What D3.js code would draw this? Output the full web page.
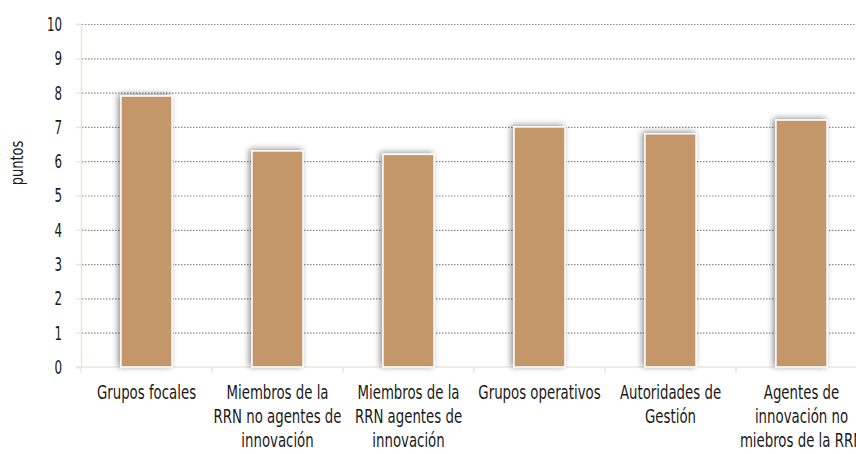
<!DOCTYPE html>
<html lang="es">
<head>
<meta charset="utf-8">
<title>puntos</title>
<script src="https://cdn.jsdelivr.net/npm/d3@7"></script>
<style>
  body { margin: 0; background: #fff; }
  svg { display: block; }
  svg text { font-family: "DejaVu Sans Condensed", "DejaVu Sans", sans-serif; font-stretch: condensed; }
</style>
</head>
<body>
<script>
// data
var categories = [
  ["Grupos focales"],
  ["Miembros de la", "RRN no agentes de", "innovación"],
  ["Miembros de la", "RRN agentes de", "innovación"],
  ["Grupos operativos"],
  ["Autoridades de", "Gestión"],
  ["Agentes de", "innovación no", "miebros de la RRN"]
];
var values = [7.9, 6.3, 6.2, 7.0, 6.8, 7.2];
var yTicks = [0, 1, 2, 3, 4, 5, 6, 7, 8, 9, 10];

var W = 856, H = 454;
var svg = d3.select("body").append("svg")
  .attr("width", W)
  .attr("height", H);

var defs = svg.append("defs");
var f = defs.append("filter").attr("id", "shadow")
  .attr("x", "-40%").attr("y", "-10%").attr("width", "180%").attr("height", "120%");
f.append("feDropShadow")
  .attr("dx", -2).attr("dy", -1)
  .attr("stdDeviation", 3)
  .attr("flood-color", "#000")
  .attr("flood-opacity", 0.45);

var x = d3.scaleBand()
  .domain(d3.range(categories.length))
  .range([81, 867])
  .paddingInner(0.61)
  .paddingOuter(0.305);

var y = d3.scaleLinear().domain([0, 10]).range([367, 24]);

// gridlines
svg.append("g").selectAll("line")
  .data(yTicks.filter(function(d) { return d > 0; }))
  .enter().append("line")
  .attr("x1", 82).attr("x2", W)
  .attr("y1", function(d) { return y(d) + 0.5; })
  .attr("y2", function(d) { return y(d) + 0.5; })
  .attr("stroke", "#8c8c8c")
  .attr("stroke-width", 1.2)
  .attr("stroke-dasharray", "1.5,1.5");

// y axis
var yAxis = svg.append("g")
  .attr("transform", "translate(81,0)")
  .call(d3.axisLeft(y).tickValues(yTicks).tickSize(5).tickPadding(0));
yAxis.select(".domain").attr("stroke", "#f0e4da").attr("stroke-width", 1.5);
yAxis.selectAll(".tick line").attr("stroke", "#f0e4da").attr("stroke-width", 1.5);
yAxis.selectAll("text")
  .attr("x", null)
  .attr("fill", "#1a1a1a")
  .attr("font-size", 20)
  .attr("font-family", null)
  .attr("transform", "translate(-19,0) scale(0.66,1)");

// x axis
var xAxis = svg.append("g")
  .attr("transform", "translate(0,367)");
xAxis.append("line")
  .attr("x1", 76).attr("x2", W)
  .attr("stroke", "#f0e4da").attr("stroke-width", 1.5);
xAxis.selectAll(".sep")
  .data(d3.range(categories.length + 1))
  .enter().append("line")
  .attr("class", "sep")
  .attr("x1", function(i) { return 81 + i * x.step(); })
  .attr("x2", function(i) { return 81 + i * x.step(); })
  .attr("y1", 0).attr("y2", 6)
  .attr("stroke", "#f0e4da").attr("stroke-width", 1.5);

// bars
svg.append("g").selectAll("rect")
  .data(values)
  .enter().append("rect")
  .attr("x", function(d, i) { return x(i); })
  .attr("y", function(d) { return y(d); })
  .attr("width", x.bandwidth())
  .attr("height", function(d) { return y(0) - y(d); })
  .attr("fill", "#c4976b")
  .attr("stroke", "#fff")
  .attr("stroke-width", 1.5)
  .attr("filter", "url(#shadow)");

// category labels
var labels = svg.append("g").selectAll("text")
  .data(categories)
  .enter().append("text")
  .attr("text-anchor", "middle")
  .attr("font-size", 19)
  .attr("fill", "#1a1a1a")
  .attr("transform", function(d, i) { return "translate(" + (x(i) + x.bandwidth() / 2) + ",399) scale(0.78,1)"; });
labels.selectAll("tspan")
  .data(function(d) { return d; })
  .enter().append("tspan")
  .attr("x", 0)
  .attr("dy", function(d, i) { return i === 0 ? 0 : 24; })
  .text(function(d) { return d; });

// y title
svg.append("text")
  .attr("transform", "translate(23,163) rotate(-90) scale(0.85,1)")
  .attr("text-anchor", "middle")
  .attr("font-size", 17)
  .attr("fill", "#1a1a1a")
  .text("puntos");
</script>
</body>
</html>
